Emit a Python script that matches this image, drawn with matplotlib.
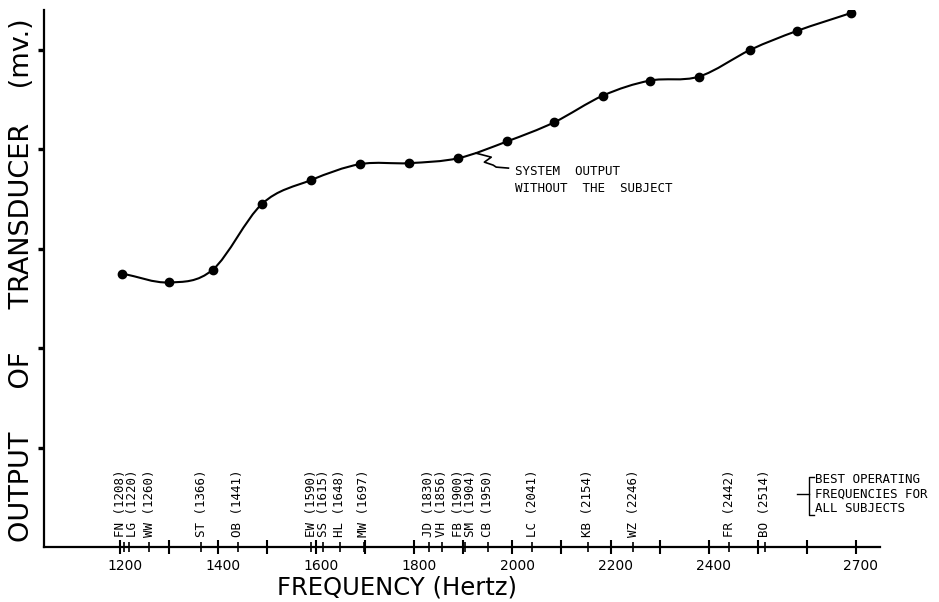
import numpy as np
import matplotlib
matplotlib.use('Agg')
import matplotlib.pyplot as plt
from matplotlib.path import Path
from matplotlib.patches import PathPatch
from matplotlib.transforms import ScaledTranslation

# ---- data ----
freq = [1205, 1300, 1390, 1490, 1590, 1690, 1790, 1890, 1990, 2085,
        2185, 2280, 2380, 2485, 2580, 2690]
output_mv = [2.75, 2.66, 2.79, 3.45, 3.69, 3.85, 3.86, 3.91, 4.08, 4.27,
             4.54, 4.69, 4.73, 5.00, 5.19, 5.37]

subjects = ['FN', 'LG', 'WW', 'ST', 'OB', 'EW', 'SS', 'HL', 'MW', 'JD',
            'VH', 'FB', 'SM', 'CB', 'LC', 'KB', 'WZ', 'FR', 'BO']
best_freq = [1208, 1220, 1260, 1366, 1441, 1590, 1615, 1648, 1697, 1830,
             1856, 1900, 1904, 1950, 2041, 2154, 2246, 2442, 2514]

xtick_vals = list(range(1200, 2800, 100))
xtick_labels = ['1200', '', '1400', '', '1600', '', '1800', '', '2000', '',
                '2200', '', '2400', '', '', '2700']
ytick_vals = [1, 2, 3, 4, 5]

annot_text = 'SYSTEM  OUTPUT\nWITHOUT  THE  SUBJECT'
legend_text = ['BEST OPERATING', 'FREQUENCIES FOR', 'ALL SUBJECTS']

MONO = 'DejaVu Sans Mono'

# ---- figure ----
fig = plt.figure(figsize=(9.39, 6.02), dpi=100)
ax = fig.add_axes([0.0469, 0.0914, 0.8903, 0.8920])
ax.set_xlim(1046, 2749)
ax.set_ylim(0, 5.40)

for s in ['top', 'right']:
    ax.spines[s].set_visible(False)
for s in ['left', 'bottom']:
    ax.spines[s].set_linewidth(1.6)

# smooth curve through the measured points (Catmull-Rom as Bezier path)
P = np.column_stack([freq, output_mv]).astype(float)
ext = np.vstack([2 * P[0] - P[1], P, 2 * P[-1] - P[-2]])
verts = [tuple(P[0])]
codes = [Path.MOVETO]
for i in range(1, len(ext) - 2):
    p0, p1, p2, p3 = ext[i - 1], ext[i], ext[i + 1], ext[i + 2]
    b1 = p1 + (p2 - p0) / 6.0
    b2 = p2 - (p3 - p1) / 6.0
    verts += [tuple(b1), tuple(b2), tuple(p2)]
    codes += [Path.CURVE4] * 3
ax.add_patch(PathPatch(Path(verts, codes), facecolor='none',
                       edgecolor='black', lw=1.5))
ax.plot(freq, output_mv, 'o', color='black', ms=6)

# ticks
ax.set_xticks(xtick_vals)
ax.set_xticklabels(xtick_labels, fontsize=10, family='DejaVu Sans')
ax.set_xticks(best_freq, minor=True)
ax.tick_params(axis='x', which='major', direction='inout', length=10,
               width=1.5, pad=4)
ax.tick_params(axis='x', which='minor', direction='inout', length=7,
               width=1.2)
ax.set_yticks(ytick_vals)
ax.set_yticklabels([])
ax.tick_params(axis='y', direction='out', length=4, width=2.4)
for lab in ax.get_xticklabels():
    lab.set_transform(lab.get_transform() +
                      ScaledTranslation(5 / 100, 0, fig.dpi_scale_trans))

# subject labels, spread so they don't overlap
def spread(vals, gap):
    pos = [float(v) for v in vals]
    for _ in range(500):
        moved = False
        for i in range(len(pos) - 1):
            d = pos[i + 1] - pos[i]
            if d < gap - 1e-9:
                s = (gap - d) / 2
                pos[i] -= s
                pos[i + 1] += s
                moved = True
        if not moved:
            break
    return pos

label_x = spread(best_freq, 24)
for s, f, px in zip(subjects, best_freq, label_x):
    ax.text(px, 0.10, f'{s} ({f})', rotation=90, ha='center', va='bottom',
            fontsize=9, family=MONO)

# annotation pointer
squig_x = [1926, 1957, 1943, 1961, 1967, 1992]
squig_y = [3.96, 3.92, 3.87, 3.84, 3.82, 3.81]
ax.plot(squig_x, squig_y, color='black', lw=1.2)
ax.text(2006, 3.69, annot_text, ha='left', va='center', fontsize=9,
        family=MONO, linespacing=1.4)

# right-hand bracket legend
ax.plot([2614, 2604, 2604, 2614], [0.707, 0.707, 0.322, 0.322],
        color='black', lw=1.0, clip_on=False)
ax.plot([2580, 2604], [0.533, 0.533], color='black', lw=1.0, clip_on=False)
for k, t in enumerate(legend_text):
    ax.text(2617, 0.674 - k * 0.143, t, ha='left', va='center', fontsize=9,
            family=MONO, clip_on=False)

# axis labels
fig.text(397 / 939, 1 - 588 / 602, 'FREQUENCY (Hertz)', ha='center',
         va='center', fontsize=17.5, family='DejaVu Sans')
fig.text(22 / 939, 1 - 280 / 602, 'OUTPUT     OF     TRANSDUCER    (mv.)',
         rotation=90, ha='center', va='center', fontsize=19.5,
         family='DejaVu Sans')

fig.savefig('out.png', dpi=100, facecolor='white')
